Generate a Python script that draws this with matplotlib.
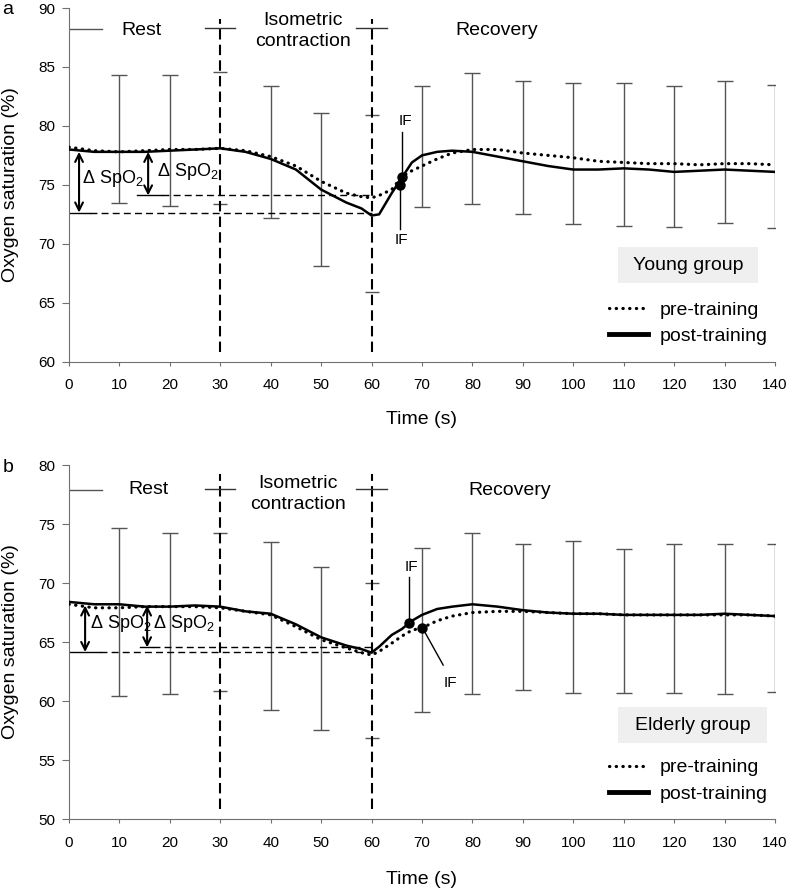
import matplotlib
matplotlib.use('Agg')
import matplotlib.pyplot as plt
from matplotlib.lines import Line2D
from matplotlib.patches import Rectangle
import numpy as np

plt.rcParams['font.family'] = ['Liberation Sans', 'DejaVu Sans']
plt.rcParams['mathtext.fontset'] = 'custom'
plt.rcParams['mathtext.rm'] = 'Liberation Sans'
plt.rcParams['mathtext.default'] = 'regular'

# mean SpO2 traces
time = [0, 5, 10, 15, 20, 25, 30, 35, 40, 45, 50, 55, 58, 60, 61.5, 64, 66, 68, 70,
        73, 76, 80, 85, 90, 95, 100, 105, 110, 115, 120, 125, 130, 135, 140]
young_pre = [78.2, 77.9, 77.8, 77.9, 78.0, 78.0, 78.1, 77.9, 77.4, 76.6, 75.3, 74.3, 74.0, 73.9,
             74.1, 74.6, 75.7, 76.2, 76.6, 77.2, 77.7, 78.0, 78.0, 77.7, 77.5, 77.3, 77.0, 76.9,
             76.8, 76.8, 76.7, 76.8, 76.8, 76.7]
young_post = [78.0, 77.8, 77.8, 77.8, 77.9, 78.0, 78.1, 77.8, 77.2, 76.3, 74.6, 73.5, 73.0, 72.4,
              72.5, 74.3, 75.6, 76.9, 77.5, 77.8, 77.9, 77.8, 77.4, 77.0, 76.6, 76.3, 76.3, 76.4,
              76.3, 76.1, 76.2, 76.3, 76.2, 76.1]
elderly_pre = [68.2, 67.9, 67.9, 68.0, 68.0, 68.0, 67.9, 67.6, 67.3, 66.3, 65.2, 64.5, 64.1, 63.9,
               64.2, 64.9, 65.5, 66.0, 66.2, 66.8, 67.2, 67.5, 67.6, 67.6, 67.5, 67.4, 67.4, 67.3,
               67.3, 67.3, 67.3, 67.3, 67.3, 67.2]
elderly_post = [68.4, 68.2, 68.2, 68.0, 68.0, 68.1, 68.0, 67.6, 67.4, 66.5, 65.4, 64.7, 64.4, 64.1,
                64.6, 65.6, 66.1, 66.8, 67.3, 67.8, 68.0, 68.2, 68.0, 67.7, 67.5, 67.4, 67.4, 67.3,
                67.3, 67.3, 67.3, 67.4, 67.3, 67.2]

# error bar ends (upper / lower)
bar_x = [10, 20, 30, 40, 50, 60, 70, 80, 90, 100, 110, 120, 130, 140]
young_hi = [84.3, 84.3, 84.55, 83.4, 81.1, 80.9, 83.4, 84.5, 83.8, 83.65, 83.65, 83.4, 83.85, 83.5]
young_lo = [73.5, 73.2, 73.35, 72.2, 68.1, 65.9, 73.1, 73.4, 72.5, 71.7, 71.5, 71.4, 71.75, 71.35]
elderly_hi = [74.65, 74.25, 74.2, 73.45, 71.35, 70.0, 73.0, 74.25, 73.3, 73.55, 72.9, 73.3, 73.3, 73.35]
elderly_lo = [60.45, 60.6, 60.85, 59.2, 57.55, 56.85, 59.05, 60.6, 60.95, 60.7, 60.65, 60.7, 60.6, 60.8]

# delta SpO2 annotations: (x, top, bottom)
young_delta = [(2.0, 77.8, 72.65), (15.7, 77.8, 74.1)]
elderly_delta = [(3.2, 68.1, 64.15), (15.5, 68.1, 64.55)]

# inflection points (pre, post)
young_if = [(66.1, 75.7), (65.6, 75.0)]
elderly_if = [(70.1, 66.2), (67.5, 66.65)]

phases = [30, 60]

fig = plt.figure(figsize=(7.9, 8.89), dpi=100)
ax_a = fig.add_axes([0.0873, 0.5931, 0.8937, 0.3979])
ax_b = fig.add_axes([0.0873, 0.0787, 0.8937, 0.3982])

panels = [
    dict(ax=ax_a, pre=young_pre, post=young_post, hi=young_hi, lo=young_lo, ylim=(60, 90),
         delta=young_delta, ifp=young_if, group='Young group', letter='a', ftop=10,
         top=89.1, bar=88.3, rest=(14.4, 88.05), iso=(46.4, 88.05), rec=(84.8, 88.13),
         solid=[(0, 4.2), (13.5, 18.5)], txt=[(2.5, 75.55), (17.4, 76.1)],
         box=(0.778, 0.2217, 0.1975, 0.1033), legy=0.172, xlab=-0.138),
    dict(ax=ax_b, pre=elderly_pre, post=elderly_post, hi=elderly_hi, lo=elderly_lo, ylim=(50, 80),
         delta=elderly_delta, ifp=elderly_if, group='Elderly group', letter='b', ftop=468,
         top=79.2, bar=77.95, rest=(15.7, 77.94), iso=(45.5, 77.55), rec=(87.3, 77.8),
         solid=[(0, 6.1), (14.1, 16.7)], txt=[(4.2, 66.6), (16.7, 66.6)],
         box=(0.778, 0.214, 0.211, 0.103), legy=0.17, xlab=-0.146),
]

for p in panels:
    ax = p['ax']
    ax.set_xlim(0, 140)
    ax.set_ylim(*p['ylim'])

    # error bars (at the phase borders only the caps are visible)
    for x, hi, lo in zip(bar_x, p['hi'], p['lo']):
        if x in phases:
            ax.plot([x, x], [hi, lo], ls='none', marker='_', ms=10, mew=1, color='#555555')
        else:
            ax.errorbar(x, (hi + lo) / 2, yerr=(hi - lo) / 2, fmt='none', ecolor='#555555',
                        elinewidth=1, capsize=5.5, capthick=1)

    # phase separators
    for x in phases:
        ax.plot([x, x], [p['ylim'][0] + 0.85, p['top']], color='black', lw=1.5,
                ls=(0, (5, 2.5)))
        ax.plot([x - 3, x + 3], [p['bar'], p['bar']], color='#333333', lw=1)
    ax.plot([0, 6.5], [p['bar'] - 0.1, p['bar'] - 0.1], color='#555555', lw=1)
    ax.text(*p['rest'], 'Rest', fontsize=14, ha='center', va='center')
    ax.text(*p['iso'], 'Isometric\ncontraction', fontsize=14, ha='center', va='center',
            linespacing=1.3)
    ax.text(*p['rec'], 'Recovery', fontsize=14, ha='center', va='center')

    # delta SpO2 reference lines and arrows
    for (x, top, bot), (s0, s1), (tx, ty) in zip(p['delta'], p['solid'], p['txt']):
        ax.plot([s0, s1], [bot, bot], color='black', lw=1)
        ax.plot([s1, 60], [bot, bot], color='black', lw=1, ls=(0, (5, 3)))
        ax.annotate('', xy=(x, bot), xytext=(x, top),
                    arrowprops=dict(arrowstyle='<->', lw=1.5, color='black',
                                    mutation_scale=14, shrinkA=0, shrinkB=0))
        ax.text(tx, ty, r'$\Delta$ SpO$_2$', fontsize=13, ha='left', va='center')

    # traces
    ax.plot(time, p['pre'], color='black', lw=2.3, ls=(0, (0.1, 2.0)),
            dash_capstyle='round', zorder=4)
    ax.plot(time, p['post'], color='black', lw=1.8, zorder=4)

    # inflection points
    (xp, yp), (xq, yq) = p['ifp']
    ax.plot([xp, xq], [yp, yq], 'o', color='black', ms=6.5, zorder=5)
    if p['letter'] == 'a':
        ax.plot([xp, xp], [yp, 79.5], color='black', lw=1)
        ax.text(xp + 0.6, 80.4, 'IF', fontsize=11, ha='center', va='center')
        ax.plot([xq, xq], [yq, 71.25], color='black', lw=1)
        ax.text(xq + 0.35, 70.3, 'IF', fontsize=11, ha='center', va='center')
    else:
        ax.plot([xq, xq], [yq, 70.5], color='black', lw=1)
        ax.text(xq + 0.4, 71.4, 'IF', fontsize=11, ha='center', va='center')
        ax.plot([xp, 74.2], [yp, 63.05], color='black', lw=1)
        ax.text(75.6, 61.5, 'IF', fontsize=11, ha='center', va='center')

    # group label box and legend
    bx, by, bw, bh = p['box']
    ax.add_patch(Rectangle((bx, by), bw, bh, transform=ax.transAxes,
                           facecolor='#efefef', edgecolor='none'))
    ax.text(bx + bw / 2, by + bh / 2, p['group'], transform=ax.transAxes,
            fontsize=14, ha='center', va='center')
    handles = [Line2D([], [], color='black', lw=2.3, ls=(0, (0.1, 2.0)), dash_capstyle='round'),
               Line2D([], [], color='black', lw=3.5)]
    ax.legend(handles, ['pre-training', 'post-training'], loc='upper left',
              bbox_to_anchor=(0.765, p['legy']), frameon=False, fontsize=14,
              handlelength=2.0, handletextpad=0.6, labelspacing=0.45,
              borderpad=0, borderaxespad=0)

    # axes styling
    ax.spines['top'].set_visible(False)
    ax.spines['right'].set_visible(False)
    for s in ['left', 'bottom']:
        ax.spines[s].set_color('#707070')
    ax.set_xticks(np.arange(0, 141, 10))
    ax.set_yticks(np.arange(p['ylim'][0], p['ylim'][1] + 1, 5))
    ax.tick_params(axis='x', length=3, color='#707070', labelsize=11, pad=9)
    ax.tick_params(axis='y', length=5, color='#707070', labelsize=11, pad=5)
    ax.set_xlabel('Time (s)', fontsize=14)
    ax.set_ylabel('Oxygen saturation (%)', fontsize=14)
    ax.xaxis.set_label_coords(0.5, p['xlab'])
    ax.yaxis.set_label_coords(-0.071, 0.5)
    fig.text(8 / 790, 1 - p['ftop'] / 889, p['letter'], fontsize=14, ha='center', va='center')

fig.savefig('out.png', dpi=100)
